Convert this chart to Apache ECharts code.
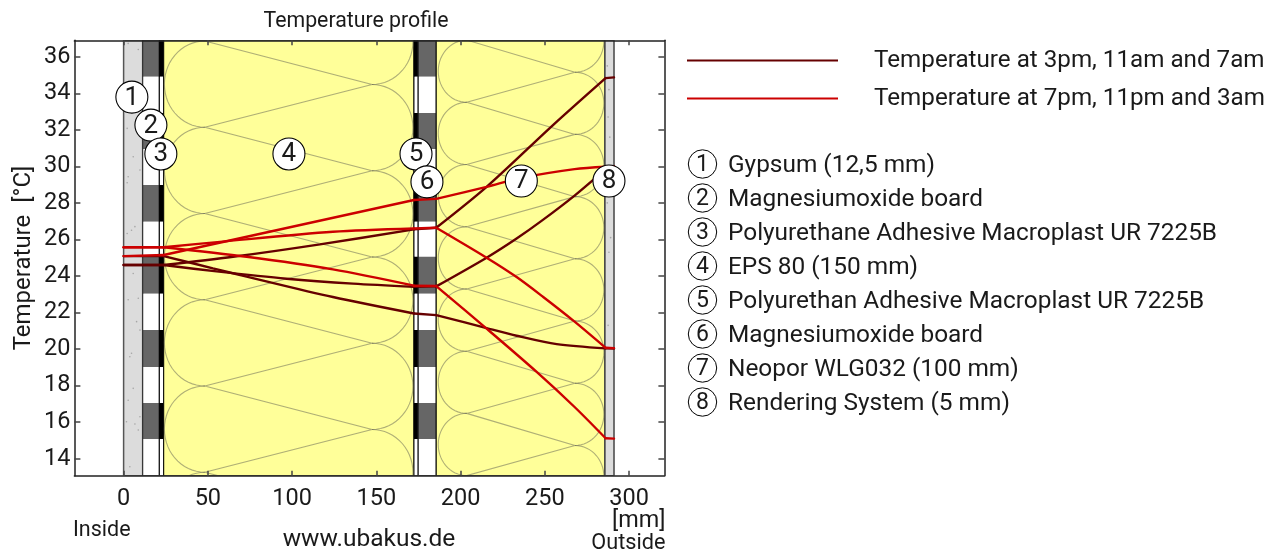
<!DOCTYPE html>
<html><head><meta charset="utf-8">
<style>html,body{margin:0;padding:0;background:#fff}#c{width:1273px;height:551px}</style>
<script src="https://cdn.jsdelivr.net/npm/echarts@6/dist/echarts.min.js"></script>
</head><body><div id="c"></div>
<script>
// ---------- data ----------
const xTicks = [0, 50, 100, 150, 200, 250, 300];
const yTicks = [14, 16, 18, 20, 22, 24, 26, 28, 30, 32, 34, 36];
const legendWarm = 'Temperature at 3pm, 11am and 7am';
const legendCool = 'Temperature at 7pm, 11pm and 3am';
const materials = ['Gypsum (12,5 mm)', 'Magnesiumoxide board', 'Polyurethane Adhesive Macroplast UR 7225B', 'EPS 80 (150 mm)',
  'Polyurethan Adhesive Macroplast UR 7225B', 'Magnesiumoxide board', 'Neopor WLG032 (100 mm)', 'Rendering System (5 mm)'];
const layerEdges = [0, 11.3, 21.2, 23.8, 172.3, 174.8, 185.5, 285.6, 291];
const kinks = [23.8, 172.3, 185.5, 286];
const bandEdges = [36.9, 34.91, 32.92, 30.95, 28.98, 26.97, 25.05, 23.03, 21.04, 19.02, 17.05, 15.08];
const markerMm = [4.9, 16.2, 22.1, 98.1, 173.5, 180, 236, 288];
const markerT = [33.79, 32.26, 30.68, 30.68, 30.68, 29.15, 29.2, 29.2];
const dark1 = [[0,24.6],[23.8,24.6],[64.9,25.05],[116.5,25.73],[172.3,26.55],[185.5,26.64],[215.4,28.88],[254.8,32.26],[286,34.83],[291,34.87]];
const dark2 = [[0,25.09],[23.8,25.09],[53,24.42],[73,23.97],[124.2,22.85],[172.3,21.95],[185.5,21.86],[215.4,21.15],[233.2,20.73],[257,20.27],[286,20.04],[291,20.03]];
const dark3 = [[0,24.6],[23.8,24.6],[55.2,24.25],[96.7,23.85],[136.1,23.58],[172.3,23.41],[185.5,23.43],[215.4,25],[233.2,26.05],[248.8,27.07],[267.6,28.4],[286,29.85],[291,30]];
const red1 = [[0,25.09],[23.8,25.15],[172.3,28.16],[185.5,28.22],[215.4,28.88],[235.2,29.36],[267.6,29.85],[286,29.98],[291,30]];
const red2 = [[0,25.57],[23.8,25.57],[57.2,25.87],[124.2,26.42],[172.3,26.6],[185.5,26.64],[215.4,25],[233.2,23.94],[249,22.85],[267.6,21.5],[286,20.07],[291,20.05]];
const red3 = [[0,25.57],[23.8,25.57],[73,25.05],[124.2,24.36],[172.3,23.47],[185.5,23.45],[215.4,21.12],[245.1,18.75],[267.6,16.83],[286,15.12],[291,15.1]];
const speckMm = [2.7,8.7,2.1,5.7,9.7,2.7,4.7,6.7,2.1,5.7,8.7,2.7,7.7,9.7,4.7,3.7,5.7,2.7,1.7,8.7,6.7,3.7,9.7,2.1,287,288,287.5,288.5,287,289,288,287.5];
const speckT = [36.73,36.4,32.08,30.53,29.8,29.43,26.5,26.7,26.33,24.14,22.78,22.7,21.5,21.04,19.77,19.58,17.85,17.2,16.02,15.57,15.9,13.56,16.3,29.1,35.5,34.2,32.7,31.6,28,26.1,25.3,21.3];
// insulation drawing: node positions in mm / °C
const epsLoop = {leftX:48.2, rightX:147.4, rxL:24, rxR:24.3, leftT:36.86, rightT:39.2, step:4.72};
const neoLoop = {leftX:203.6, rightX:267.8, rxL:16.9, rxR:17.2, leftT:36.91, rightT:38.56, step:3.405};

// ---------- styles ----------
const FONT = 'Roboto';
const INK = '#1a1a1a';
const DARK = '#660000', RED = '#cc0000';
const LOOP = 'rgba(110,110,90,0.55)';

// rectangles derived from the layer edges and bands
const rects = [];
function addBands(x0, x1, fillA, fillB) {
  for (let i = 0; i < bandEdges.length; i++) {
    const hi = bandEdges[i], lo = i + 1 < bandEdges.length ? bandEdges[i + 1] : 13;
    rects.push({x0, x1, hi, lo, fill: i % 2 === 0 ? fillA : fillB});
  }
}
const TOP = 36.9, BOT = 13.07;
const solid = (i, fill, stroke, lw) => rects.push({x0: layerEdges[i], x1: layerEdges[i + 1], hi: TOP, lo: BOT, fill, stroke, lw});
solid(0, '#dcdcdc', '#555', 1.5);
addBands(layerEdges[1], layerEdges[2], '#666666', '#ffffff');
solid(1, 'none', '#333', 1.2);
addBands(layerEdges[2], layerEdges[3], '#000000', '#ffffff');
solid(2, 'none', '#000', 1);
solid(3, '#ffff99', '#000', 1);
addBands(layerEdges[4], layerEdges[5], '#000000', '#ffffff');
solid(4, 'none', '#000', 1);
addBands(layerEdges[5], layerEdges[6], '#666666', '#ffffff');
solid(5, 'none', '#222', 1.2);
solid(6, '#ffff99', '#000', 1);
solid(7, '#dcdcdc', '#444', 1.5);

function loopLines(p) {
  const out = [];
  const L = [], R = [];
  for (let k = 0; k < 14; k++) {
    const tl = p.leftT - k * p.step, tr = p.rightT - k * p.step;
    if (tl > BOT - p.step) L.push(tl);
    if (tr > BOT - p.step) R.push(tr);
  }
  const arc = (cx, cy, rx, ry, sign) => {
    const pts = [];
    for (let a = -90; a <= 90; a += 6) {
      const t = a * Math.PI / 180;
      pts.push([cx + sign * rx * Math.cos(t), cy + ry * Math.sin(t)]);
    }
    return pts;
  };
  for (let i = 0; i + 1 < L.length; i++) out.push(arc(p.leftX, (L[i] + L[i + 1]) / 2, p.rxL, p.step / 2, -1));
  for (let i = 0; i + 1 < R.length; i++) out.push(arc(p.rightX, (R[i] + R[i + 1]) / 2, p.rxR, p.step / 2, 1));
  const zig = [];
  for (let i = 0; i < Math.max(L.length, R.length); i++) {
    if (i < R.length) zig.push([p.rightX, R[i]]);
    if (i < L.length) zig.push([p.leftX, L[i]]);
  }
  out.push(zig);
  return out;
}
const loops = loopLines(epsLoop).concat(loopLines(neoLoop));

// each curve is cut at the layer boundaries so that it keeps its kinks there
function curve(name, data, color) {
  const pieces = [];
  let cur = [];
  data.forEach(pt => {
    cur.push(pt);
    if (kinks.includes(pt[0])) { pieces.push(cur); cur = [pt]; }
  });
  if (cur.length > 1) pieces.push(cur);
  return pieces.map(piece => ({
    type: 'line', name, data: piece, showSymbol: false, symbol: 'none', smooth: 0.3, animation: false, z: 5,
    lineStyle: {color, width: 2.4, cap: 'round'}, itemStyle: {color}, clip: true
  }));
}

const chart = echarts.init(document.getElementById('c'), null, {renderer: 'canvas'});

const graphics = [];
materials.forEach((m, i) => {
  const y = 164 + i * 34;
  graphics.push({type: 'circle', shape: {cx: 702.5, cy: y, r: 14.2}, style: {fill: '#fff', stroke: '#000', lineWidth: 1}});
  graphics.push({type: 'text', x: 702.5, y: y + 1.5, style: {text: String(i + 1), font: `23px ${FONT}`, fill: INK, textAlign: 'center', textVerticalAlign: 'middle'}});
  graphics.push({type: 'text', x: 728, y: y + 2, style: {text: m, font: `24.4px ${FONT}`, fill: INK, textAlign: 'left', textVerticalAlign: 'middle'}});
});
const note = (text, x, y, size, align) => graphics.push({type: 'text', x, y, style: {text, font: `${size}px ${FONT}`, fill: INK, textAlign: align, textVerticalAlign: 'middle'}});
note('Inside', 73, 531, 21.5, 'left');
note('www.ubakus.de', 369, 540, 24.5, 'center');
note('[mm]', 665.5, 521, 23.4, 'right');
note('Outside', 665.5, 544, 21.7, 'right');

const xBase = {type: 'value', min: -29.2, max: 320.9, splitLine: {show: false}, z: 20};
const yBase = {type: 'value', min: BOT, max: TOP, splitLine: {show: false}, z: 20};
const axLine = {show: true, onZero: false, lineStyle: {color: '#222', width: 1.5}};
const tick = (len) => ({show: true, inside: true, length: len, lineStyle: {color: '#444', width: 1.5}});

chart.setOption({
  animation: false,
  backgroundColor: '#fff',
  textStyle: {fontFamily: FONT},
  title: {text: 'Temperature profile', left: 351, top: 6, textAlign: 'center',
    textStyle: {fontFamily: FONT, fontSize: 21.3, fontWeight: 'normal', color: INK}},
  grid: {left: 74.4, top: 40.3, width: 590, height: 435.4, containLabel: false},
  legend: {
    show: true, orient: 'vertical', left: 687, top: 46, padding: 0, itemWidth: 151, itemHeight: 2, itemGap: 9,
    icon: 'rect', data: [legendWarm, legendCool], selectedMode: false,
    textStyle: {fontFamily: FONT, fontSize: 24.2, color: INK, padding: [3, 0, 0, 31], lineHeight: 26}
  },
  xAxis: [
    Object.assign({}, xBase, {position: 'bottom', axisLine: axLine, axisTick: Object.assign(tick(5), {customValues: xTicks}),
      axisLabel: {customValues: xTicks, fontFamily: FONT, fontSize: 23.5, color: INK, margin: 11, showMinLabel: true, showMaxLabel: true}}),
    Object.assign({}, xBase, {position: 'top', axisLine: axLine, axisTick: Object.assign(tick(5), {customValues: xTicks}), axisLabel: {show: false}})
  ],
  yAxis: [
    Object.assign({}, yBase, {position: 'left', name: 'Temperature  [°C]', nameLocation: 'middle', nameGap: 38, nameRotate: 90,
      nameTextStyle: {fontFamily: FONT, fontSize: 24, color: INK},
      axisLine: axLine, axisTick: Object.assign(tick(6), {customValues: yTicks}),
      axisLabel: {customValues: yTicks, fontFamily: FONT, fontSize: 23.5, color: INK, margin: 4, padding: [5, 0, 0, 0]}}),
    Object.assign({}, yBase, {position: 'right', axisLine: axLine, axisTick: Object.assign(tick(6), {customValues: yTicks}), axisLabel: {show: false}})
  ],
  graphic: graphics,
  series: [
    {type: 'custom', name: 'layers', silent: true, clip: true, z: 1, data: rects.map((r, i) => [i]),
      renderItem(p, api) {
        const r = rects[p.dataIndex];
        const a = api.coord([r.x0, r.hi]), b = api.coord([r.x1, r.lo]);
        return {type: 'rect', shape: {x: a[0], y: a[1], width: b[0] - a[0], height: b[1] - a[1]},
          style: {fill: r.fill === 'none' ? 'transparent' : r.fill, stroke: r.stroke || null, lineWidth: r.lw || 0}};
      }},
    {type: 'custom', name: 'insulation', silent: true, clip: true, z: 2, data: loops.map((l, i) => [i]),
      renderItem(p, api) {
        return {type: 'polyline', shape: {points: loops[p.dataIndex].map(q => api.coord(q))},
          style: {stroke: LOOP, lineWidth: 1.1, fill: null}};
      }},
    {type: 'scatter', name: 'speckle', silent: true, z: 3, symbol: 'circle', symbolSize: 1.6,
      data: speckMm.map((v, i) => [v, speckT[i]]), itemStyle: {color: '#999'}},
    ...curve(legendWarm, dark1, DARK),
    ...curve(legendWarm, dark2, DARK),
    ...curve(legendWarm, dark3, DARK),
    ...curve(legendCool, red1, RED),
    ...curve(legendCool, red2, RED),
    ...curve(legendCool, red3, RED),
    {type: 'scatter', name: 'markers', silent: true, z: 8, symbol: 'circle', symbolSize: 32,
      data: markerMm.map((v, i) => [v, markerT[i]]),
      itemStyle: {color: '#fff', borderColor: '#000', borderWidth: 1.1, opacity: 1},
      label: {show: true, position: 'inside', offset: [0, 1], formatter: p => String(p.dataIndex + 1), fontFamily: FONT, fontSize: 26, color: INK}}
  ]
});
</script></body></html>
